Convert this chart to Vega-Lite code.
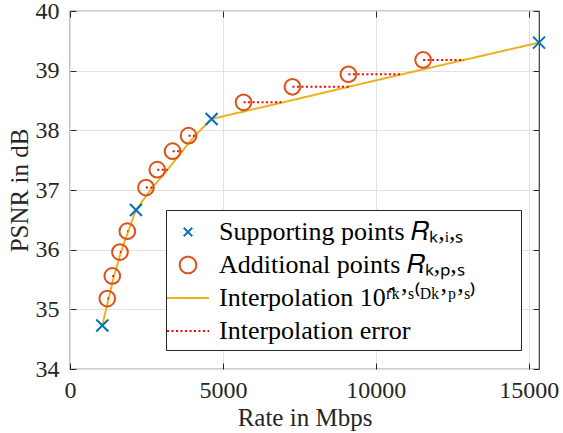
{
  "$schema": "https://vega.github.io/schema/vega-lite/v6.json",
  "width": 469,
  "height": 358,
  "autosize": "none",
  "padding": {"left": 70, "top": 11, "right": 24, "bottom": 64},
  "background": "white",
  "datasets": {
    "sup": [
      {"r": 1056, "p": 34.73, "s": "a"},
      {"r": 2157, "p": 36.665, "s": "a"},
      {"r": 4630, "p": 38.19, "s": "a"},
      {"r": 15337, "p": 39.47, "s": "a"}
    ],
    "add": [
      {"r": 1219, "p": 35.18, "s": "b"},
      {"r": 1383, "p": 35.56, "s": "b"},
      {"r": 1634, "p": 35.96, "s": "b"},
      {"r": 1874, "p": 36.31, "s": "b"},
      {"r": 2484, "p": 37.04, "s": "b"},
      {"r": 2854, "p": 37.34, "s": "b"},
      {"r": 3355, "p": 37.65, "s": "b"},
      {"r": 3876, "p": 37.91, "s": "b"},
      {"r": 5675, "p": 38.47, "s": "b"},
      {"r": 7275, "p": 38.73, "s": "b"},
      {"r": 9105, "p": 38.94, "s": "b"},
      {"r": 11547, "p": 39.18, "s": "b"}
    ],
    "err": [
      {"r": 1219, "p": 35.18, "r2": 1265, "s": "d"},
      {"r": 1383, "p": 35.56, "r2": 1438, "s": "d"},
      {"r": 1634, "p": 35.96, "r2": 1667, "s": "d"},
      {"r": 1874, "p": 36.31, "r2": 1906, "s": "d"},
      {"r": 2484, "p": 37.04, "r2": 2690, "s": "d"},
      {"r": 2854, "p": 37.34, "r2": 3193, "s": "d"},
      {"r": 3355, "p": 37.65, "r2": 3670, "s": "d"},
      {"r": 3876, "p": 37.91, "r2": 4085, "s": "d"},
      {"r": 5675, "p": 38.47, "r2": 6971, "s": "d"},
      {"r": 7275, "p": 38.73, "r2": 9118, "s": "d"},
      {"r": 9105, "p": 38.94, "r2": 10860, "s": "d"},
      {"r": 11547, "p": 39.18, "r2": 12886, "s": "d"}
    ],
    "interp": [
      {"r": 1056, "p": 34.73, "s": "c"},
      {"r": 1265, "p": 35.18, "s": "c"},
      {"r": 1438, "p": 35.56, "s": "c"},
      {"r": 1667, "p": 35.96, "s": "c"},
      {"r": 1906, "p": 36.31, "s": "c"},
      {"r": 2157, "p": 36.665, "s": "c"},
      {"r": 2690, "p": 37.04, "s": "c"},
      {"r": 3193, "p": 37.34, "s": "c"},
      {"r": 3670, "p": 37.65, "s": "c"},
      {"r": 4085, "p": 37.91, "s": "c"},
      {"r": 4630, "p": 38.19, "s": "c"},
      {"r": 6971, "p": 38.47, "s": "c"},
      {"r": 9118, "p": 38.73, "s": "c"},
      {"r": 10860, "p": 38.94, "s": "c"},
      {"r": 12886, "p": 39.18, "s": "c"},
      {"r": 15337, "p": 39.47, "s": "c"}
    ]
  },
  "config": {
    "view": {"stroke": "#3a3a3a", "strokeWidth": 1.2},
    "font": "Liberation Serif",
    "axis": {
      "labelFont": "Liberation Serif",
      "labelFontSize": 24,
      "labelColor": "#262626",
      "labelFlush": false,
      "titleFont": "Liberation Serif",
      "titleFontSize": 25,
      "titleFontWeight": "normal",
      "titleColor": "#262626",
      "tickColor": "#262626",
      "tickWidth": 1,
      "gridColor": "#e1e1e1",
      "gridWidth": 1,
      "domain": false,
      "tickSize": -6,
      "labelPadding": 17
    },
    "legend": {
      "orient": "none",
      "legendX": 96,
      "legendY": 199,
      "title": null,
      "direction": "vertical",
      "fillColor": "white",
      "strokeColor": "#262626",
      "padding": 6,
      "rowPadding": 4,
      "labelFont": "Liberation Serif",
      "labelFontSize": 26,
      "labelColor": "#000000",
      "labelLimit": 0,
      "labelOffset": 15,
      "symbolSize": 900,
      "symbolStrokeWidth": 2,
      "symbolFillColor": "transparent",
      "symbolOpacity": 1
    }
  },
  "layer": [
    {
      "encoding": {
        "x": {
          "field": "r",
          "type": "quantitative",
          "scale": {"domain": [0, 15337], "nice": false, "zero": false},
          "axis": {"values": [0, 5000, 10000, 15000], "format": "d", "title": "Rate in Mbps", "grid": true, "labelPadding": 15, "titlePadding": 3}
        },
        "y": {
          "field": "p",
          "type": "quantitative",
          "scale": {"domain": [34, 40], "nice": false, "zero": false},
          "axis": {"values": [34, 35, 36, 37, 38, 39, 40], "format": "d", "title": "PSNR in dB", "grid": true, "titlePadding": 3}
        },
        "color": {
          "field": "s",
          "type": "nominal",
          "title": null,
          "scale": {"domain": ["a", "b", "c", "d"], "range": ["#0072BD", "#D95319", "#EDB120", "#FF0000"]},
          "legend": {
            "orient": "none",
            "legendX": 96,
            "legendY": 199,
            "title": null,
            "symbolSize": 900,
            "labelExpr": "datum.value == 'a' ? 'Supporting points 𝑅ₖ,ᵢ,ₛ' : datum.value == 'b' ? 'Additional points 𝑅ₖ,ₚ,ₛ' : datum.value == 'c' ? 'Interpolation 10ʳ̂ᵏʼˢ⁽ᴰᵏʼᵖʼˢ⁾\u2800\u2800' : 'Interpolation error'"
          }
        }
      },
      "layer": [
        {
          "data": {"name": "interp"},
          "mark": {"type": "line", "strokeWidth": 2},
          "encoding": {
            "strokeDash": {
              "field": "s",
              "type": "nominal",
              "title": null,
              "scale": {"domain": ["a", "b", "c", "d"], "range": [[1, 0], [1, 0], [1, 0], [2, 2.5]]}
            }
          }
        },
        {
          "data": {"name": "add"},
          "mark": {"type": "point", "filled": false, "strokeWidth": 2, "opacity": 1, "size": 806},
          "encoding": {
            "shape": {
              "field": "s",
              "type": "nominal",
              "title": null,
              "scale": {"domain": ["a", "b", "c", "d"], "range": ["M-0.28,-0.28L0.28,0.28M0.28,-0.28L-0.28,0.28", "M0.553,0A0.553,0.553,0,1,1,-0.553,0A0.553,0.553,0,1,1,0.553,0Z", "M-1.4,0L1.4,0", "M-1.4,0L1.4,0"]}
            }
          }
        },
        {
          "data": {"name": "err"},
          "mark": {"type": "rule", "strokeWidth": 2},
          "encoding": {
            "x2": {"field": "r2"},
            "strokeDash": {
              "field": "s",
              "type": "nominal",
              "title": null,
              "scale": {"domain": ["a", "b", "c", "d"], "range": [[1, 0], [1, 0], [1, 0], [2, 2.5]]}
            }
          }
        },
        {
          "data": {"name": "sup"},
          "mark": {"type": "point", "filled": false, "strokeWidth": 2, "opacity": 1, "size": 1837},
          "encoding": {
            "shape": {
              "field": "s",
              "type": "nominal",
              "title": null,
              "scale": {"domain": ["a", "b", "c", "d"], "range": ["M-0.28,-0.28L0.28,0.28M0.28,-0.28L-0.28,0.28", "M0.553,0A0.553,0.553,0,1,1,-0.553,0A0.553,0.553,0,1,1,0.553,0Z", "M-1.4,0L1.4,0", "M-1.4,0L1.4,0"]}
            }
          }
        }
      ]
    },
    {
      "data": {"name": "sup"},
      "mark": {"type": "point", "opacity": 0},
      "encoding": {
        "x": {
          "field": "r",
          "type": "quantitative",
          "scale": {"domain": [0, 15337], "nice": false, "zero": false},
          "axis": {"orient": "top", "values": [0, 5000, 10000, 15000], "labels": false, "grid": false, "title": null}
        },
        "y": {
          "field": "p",
          "type": "quantitative",
          "scale": {"domain": [34, 40], "nice": false, "zero": false},
          "axis": {"orient": "right", "values": [34, 35, 36, 37, 38, 39, 40], "labels": false, "grid": false, "title": null}
        }
      }
    }
  ],
  "resolve": {"scale": {"x": "independent", "y": "independent"}, "axis": {"x": "independent", "y": "independent"}}
}
